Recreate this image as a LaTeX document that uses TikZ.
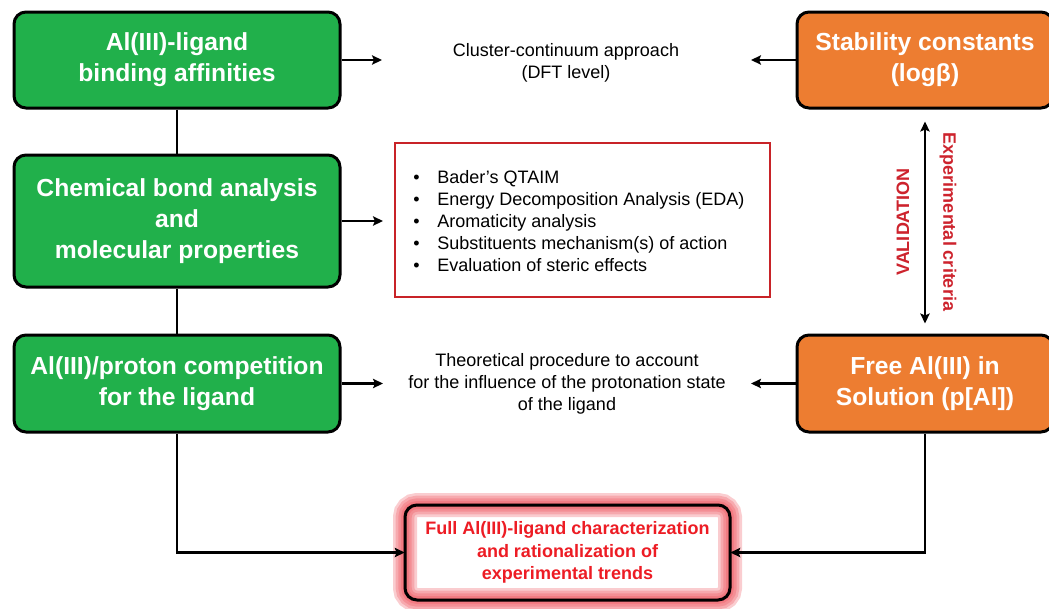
\documentclass[tikz,border=0pt]{standalone}
\usepackage{fontspec}
\setmainfont{Liberation Sans}
\usetikzlibrary{arrows.meta}
\definecolor{boxgreen}{RGB}{33,176,75}
\definecolor{boxorange}{RGB}{237,125,49}
\definecolor{framered}{RGB}{200,35,40}
\definecolor{textred}{RGB}{237,28,36}
\definecolor{labelred}{RGB}{205,35,45}
\definecolor{glowred}{RGB}{238,75,85}
\begin{document}
\begin{tikzpicture}[x=0.75pt,y=-0.75pt,
  basebox/.style={draw=black, line width=2.25pt, rounded corners=9pt, text=white,
    font=\bfseries\fontsize{18.5}{23}\selectfont, align=center, inner sep=0pt},
  gbox/.style={basebox, fill=boxgreen, minimum width=244.5pt},
  obox/.style={basebox, fill=boxorange, minimum width=192pt},
  small/.style={font=\fontsize{13.5}{16.5}\selectfont, align=center, inner sep=0pt},
  conn/.style={line width=2.2pt},
  tip/.tip={Stealth[length=7.5pt,width=7pt,inset=1.5pt]},
  arr/.style={conn, -tip},
  dblarr/.style={conn, tip-tip},
  vlabel/.style={font=\bfseries\fontsize{13.5}{16}\selectfont, text=labelred, inner sep=0pt},
  glow/.style={draw=glowred, opacity=0.28, line width=#1},
  finalbox/.style={fill=white, rounded corners=9pt, minimum width=243.75pt, minimum height=71.25pt,
    inner sep=0pt, align=center, text=textred, font=\bfseries\fontsize{13.5}{16.9}\selectfont,
    postaction={glow=18pt}, postaction={glow=14pt}, postaction={glow=10pt}, postaction={glow=6pt},
    postaction={glow=3pt},
    postaction={draw=black, line width=2.25pt}},
  listbox/.style={draw=framered, line width=2pt, minimum width=281.25pt, minimum height=115.5pt}
]
\useasboundingbox (0,0) rectangle (1049,608);
\clip (0,0) rectangle (1049,608);

% left column
\node[gbox, minimum height=72pt] (g1) at (177,60) {Al(III)-ligand\\binding affinities};
\node[gbox, minimum height=99pt] (g2) at (177,221) {Chemical bond analysis\\and\\molecular properties};
\node[gbox, minimum height=72.75pt] (g3) at (177,383.5) {Al(III)/proton competition\\for the ligand};

% right column
\node[obox, minimum height=72pt] (o1) at (925,60) {Stability constants\\(logβ)};
\node[obox, minimum height=72.75pt] (o2) at (925,383.5) {Free Al(III) in\\Solution (p[Al])};

% middle texts
\node[small] (t1) at (566,63) {Cluster-continuum approach\\(DFT level)};
\node[small] (t3) at (567,384) {Theoretical procedure to account\\for the influence of the protonation state\\of the ligand};

% list box
\node[listbox] (rb) at (582.5,220) {};
\node[small, align=left, anchor=west] (list) at (413,221.5)
  {\makebox[18pt][l]{•}Bader’s QTAIM\\
   \makebox[18pt][l]{•}Energy Decomposition Analysis (EDA)\\
   \makebox[18pt][l]{•}Aromaticity analysis\\
   \makebox[18pt][l]{•}Substituents mechanism(s) of action\\
   \makebox[18pt][l]{•}Evaluation of steric effects};

% final box
\node[finalbox] (f) at (567.5,552.5) {Full Al(III)-ligand characterization\\and rationalization of\\experimental trends};

% vertical connectors left
\draw[conn] (g1.south) -- (g2.north);
\draw[conn] (g2.south) -- (g3.north);

% horizontal arrows
\coordinate (a1) at (382,60);
\coordinate (a2) at (383,221);
\coordinate (a3) at (383,383.5);
\coordinate (b1) at (751,60);
\coordinate (b3) at (751,383.5);
\draw[arr] (g1.east) -- (a1);
\draw[arr] (g2.east) -- (a2);
\draw[arr] (g3.east) -- (a3);
\draw[arr] (o1.west) -- (b1);
\draw[arr] (o2.west) -- (b3);

% bottom connectors
\draw[arr] (g3.south) |- (f.west);
\draw[arr] (o2.south) |- (f.east);

% validation double arrow
\draw[dblarr, shorten <=9pt, shorten >=7.5pt] (o1.south) -- (o2.north);
\node[vlabel, rotate=90] (val) at (903,222) {VALIDATION};
\node[vlabel, rotate=-90] (exp) at (948,222) {Experimental criteria};
\end{tikzpicture}
\end{document}
